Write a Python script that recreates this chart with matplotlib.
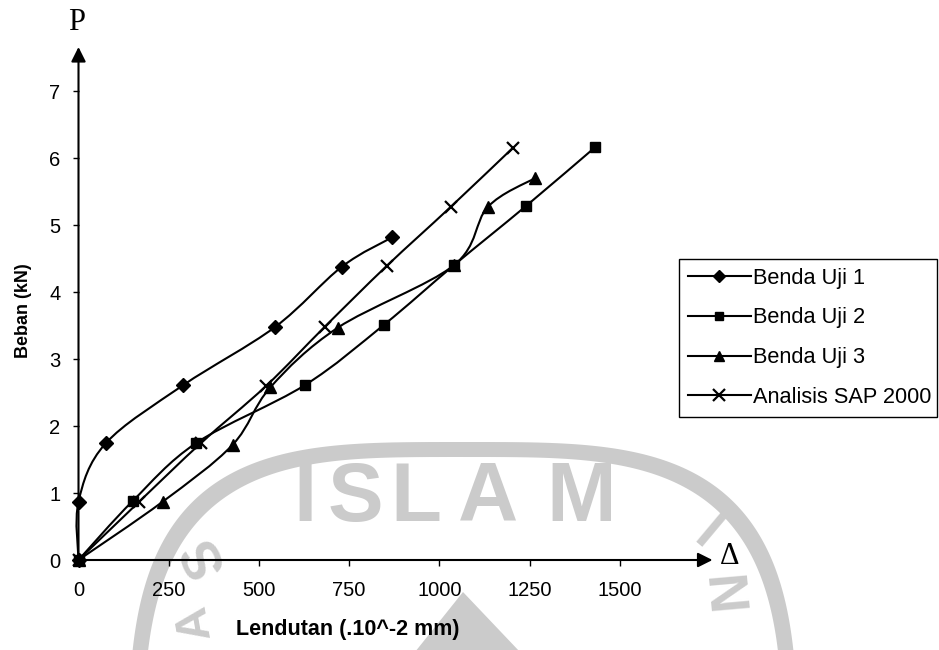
import numpy as np
import matplotlib
matplotlib.use("Agg")
import matplotlib.pyplot as plt
from matplotlib.path import Path
from matplotlib.patches import PathPatch, Polygon
from matplotlib.lines import Line2D

# Load (kN) vs deflection (.10^-2 mm)
bu1_x = [0, 0, 75, 290, 545, 730, 870]
bu1_y = [0, 0.87, 1.74, 2.61, 3.48, 4.38, 4.82]

bu2_x = [0, 150, 327, 627, 846, 1040, 1239, 1431]
bu2_y = [0, 0.88, 1.75, 2.61, 3.51, 4.40, 5.28, 6.16]

bu3_x = [0, 233, 427, 532, 719, 1040, 1134, 1264]
bu3_y = [0, 0.87, 1.72, 2.58, 3.47, 4.40, 5.27, 5.70]

sap_x = [0, 168, 340, 520, 682, 854, 1031, 1203]
sap_y = [0, 0.87, 1.75, 2.60, 3.48, 4.39, 5.27, 6.15]

labels = ["Benda Uji 1", "Benda Uji 2", "Benda Uji 3", "Analisis SAP 2000"]
x_ticks = [0, 250, 500, 750, 1000, 1250, 1500]
y_ticks = [0, 1, 2, 3, 4, 5, 6, 7]

SANS = "Liberation Sans"
SERIF = "Liberation Serif"
GREY = "#cbcbcb"


def smooth_path(xs, ys):
    # Excel-style smoothed line: Catmull-Rom turned into cubic Bezier pieces
    pts = np.column_stack([xs, ys]).astype(float)
    n = len(pts)
    verts = [pts[0]]
    codes = [Path.MOVETO]
    for i in range(n - 1):
        p0 = pts[max(i - 1, 0)]
        p1 = pts[i]
        p2 = pts[i + 1]
        p3 = pts[min(i + 2, n - 1)]
        verts += [p1 + (p2 - p0) / 6, p2 - (p3 - p1) / 6, p2]
        codes += [Path.CURVE4] * 3
    return Path(verts, codes)


def watermark(fig):
    wax = fig.add_axes([0, 0, 1, 1], zorder=0)
    wax.set_xlim(0, 939)
    wax.set_ylim(650, 0)
    wax.axis("off")

    # rounded ring of the logo
    cx, cy, a, b, k = 463, 800, 335, 358, 3.5
    t = np.linspace(0, 2 * np.pi, 400)
    c, s = np.cos(t), np.sin(t)
    def ring(aa, bb):
        return np.column_stack([cx + aa * np.sign(c) * np.abs(c) ** (2 / k),
                                cy - bb * np.sign(s) * np.abs(s) ** (2 / k)])
    outer = ring(a, b)
    inner = ring(a - 15, b - 15)
    verts = np.vstack([outer, inner[::-1]])
    wax.add_patch(Polygon(verts, closed=True, facecolor=GREY, edgecolor="none"))

    for ch, x in zip("ISLAM", [305, 355, 416, 488, 581]):
        wax.text(x, 499, ch, fontsize=60, fontweight="bold", family=SANS,
                 color=GREY, ha="center", va="center")
    wax.text(205, 556, "S", fontsize=40, fontweight="bold", family=SANS,
             color=GREY, ha="center", va="center", rotation=115)
    wax.text(195, 622, "A", fontsize=34, fontweight="bold", family=SANS,
             color=GREY, ha="center", va="center", rotation=100)
    wax.text(706, 535, "I", fontsize=40, fontweight="bold", family=SANS,
             color=GREY, ha="center", va="center", rotation=-40)
    wax.text(720, 596, "N", fontsize=40, fontweight="bold", family=SANS,
             color=GREY, ha="center", va="center", rotation=-85)
    wax.add_patch(Polygon([(463, 592), (415, 652), (520, 652)], closed=True,
                          facecolor=GREY, edgecolor="none"))


fig = plt.figure(figsize=(9.39, 6.5), dpi=100)
fig.patch.set_facecolor("white")
watermark(fig)

ax = fig.add_axes([78.5 / 939, 90 / 650, 634 / 939, 513 / 650], zorder=1)
ax.set_facecolor("none")
ax.set_xlim(0, 1757)
ax.set_ylim(0, 7.66)
for sp in ax.spines.values():
    sp.set_visible(False)

series = [
    (bu1_x, bu1_y, "D", 7),
    (bu2_x, bu2_y, "s", 7),
    (bu3_x, bu3_y, "^", 8.5),
    (sap_x, sap_y, "x", 9),
]
handles = []
for (xs, ys, mk, ms), lab in zip(series, labels):
    ax.add_patch(PathPatch(smooth_path(xs, ys), facecolor="none",
                           edgecolor="black", lw=1.5, clip_on=False))
    ax.plot(xs, ys, linestyle="none", marker=mk, ms=ms, color="black",
            mew=1.6 if mk == "x" else 1.0, clip_on=False)
    handles.append(Line2D([], [], color="black", lw=1.5, marker=mk,
                          ms=ms - 1, mew=1.6 if mk == "x" else 1.0, label=lab))

# axis arrows
ax.annotate("", xy=(1, 0), xytext=(0, 0), xycoords="axes fraction",
            arrowprops=dict(arrowstyle="-|>", lw=1.5, color="black",
                            mutation_scale=22, shrinkA=0, shrinkB=0))
ax.annotate("", xy=(0, 1), xytext=(0, 0), xycoords="axes fraction",
            arrowprops=dict(arrowstyle="-|>", lw=1.5, color="black",
                            mutation_scale=22, shrinkA=0, shrinkB=0))

ax.set_xticks(x_ticks)
ax.set_yticks(y_ticks)
ax.tick_params(direction="out", length=4, width=1, labelsize=14.5, pad=9)
ax.tick_params(axis="x", pad=11)
for lab in ax.get_xticklabels() + ax.get_yticklabels():
    lab.set_family(SANS)

fig.text(77 / 939, 1 - 22 / 650, "P", family=SERIF, fontsize=22,
         ha="center", va="center")
fig.text(730 / 939, 1 - 557 / 650, "\u0394", family=SERIF, fontsize=22,
         ha="center", va="center")
fig.text(24 / 939, 1 - 311 / 650, "Beban (kN)", family=SANS, fontsize=13,
         fontweight="bold", rotation=90, ha="center", va="center")
fig.text(348 / 939, 1 - 630 / 650, "Lendutan (.10^-2 mm)", family=SANS,
         fontsize=15.5, fontweight="bold", ha="center", va="center")

leg = ax.legend(handles=handles, loc="upper left",
                bbox_to_anchor=(679 / 939, 0, 258 / 939, 1 - 259 / 650),
                bbox_transform=fig.transFigure, mode="expand",
                borderaxespad=0, frameon=True, fancybox=False, framealpha=1,
                edgecolor="black", prop={"family": SANS, "size": 15.7},
                handlelength=2.9, handletextpad=0.1, labelspacing=0.86,
                borderpad=0.4)
leg.get_frame().set_linewidth(1.0)

fig.savefig("out.png", dpi=100)
